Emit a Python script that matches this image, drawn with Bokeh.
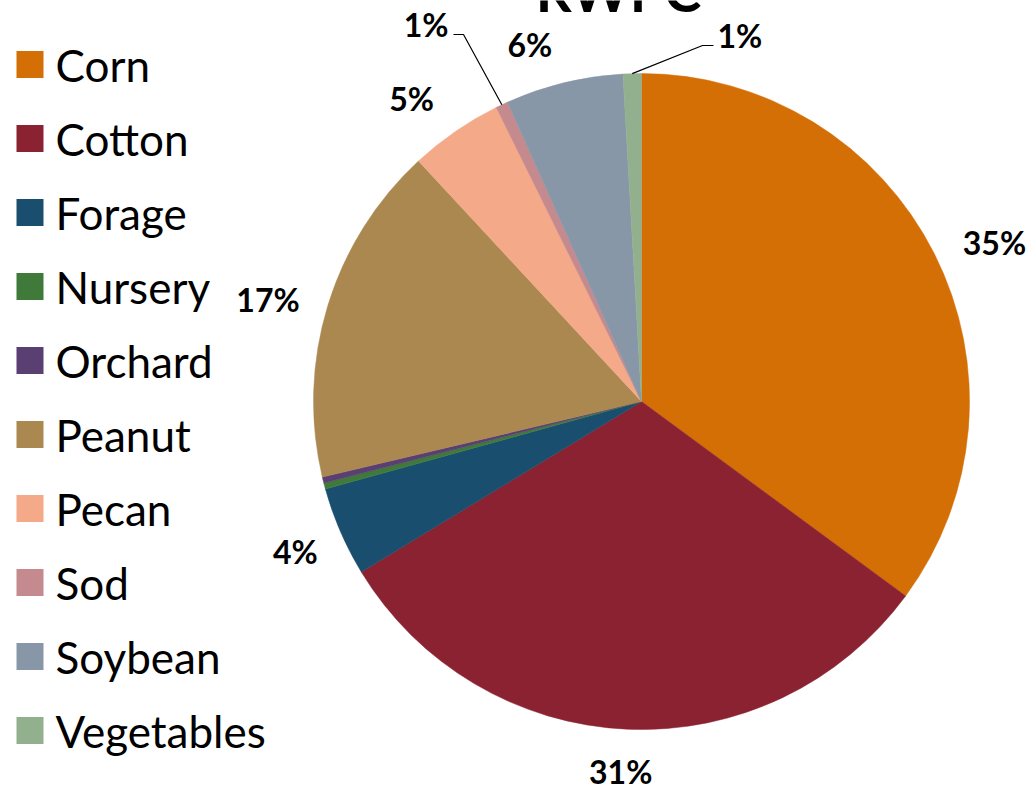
import math
from bokeh.plotting import figure
from bokeh.models import Range1d, ColumnDataSource, Label
from bokeh.core.properties import value
from bokeh.embed import file_html
from bokeh.resources import INLINE

title = "RWPC"
categories = ["Corn", "Cotton", "Forage", "Nursery", "Orchard", "Peanut",
              "Pecan", "Sod", "Soybean", "Vegetables"]
shares = [35.1, 31.2, 4.4, 0.3, 0.3, 16.8, 4.6, 0.6, 5.8, 0.9]
colors = ["#D46F06", "#8B2231", "#1A4E6E", "#3F7A3A", "#5A3F73", "#AB8850",
          "#F4A988", "#C48A8E", "#8797A8", "#93B08E"]

W, H = 1028, 786
R = 328.0
cx_px, cy_px = 641, 401  # pie centre in plot pixels from top-left

p = figure(width=W, height=H, output_backend="svg", toolbar_location=None,
           x_range=Range1d(-cx_px, W - cx_px), y_range=Range1d(-(H - cy_px), cy_px),
           min_border=0)
p.axis.visible = False
p.grid.visible = False
p.outline_line_color = None
p.background_fill_color = "white"

total = sum(shares)
starts, ends, mids = [], [], []
cum = 0.0
for v in shares:
    a0 = cum / total * 2 * math.pi
    cum += v
    a1 = cum / total * 2 * math.pi
    starts.append(math.pi / 2 - a1)
    ends.append(math.pi / 2 - a0)
    mids.append((a0 + a1) / 2)

src = ColumnDataSource(dict(start=starts, end=ends, color=colors))
p.wedge(x=0, y=0, radius=R, start_angle="start", end_angle="end",
        fill_color="color", line_color="color", line_width=0.5, source=src)

label_font = value("Lato")
# (radial factor, angular nudge in degrees) for data labels
placement = {"Corn": (1.18, 2.6), "Cotton": (1.13, 0.7), "Forage": (1.15, 0.0),
             "Peanut": (1.18, -1.7), "Pecan": (1.16, -2.6), "Soybean": (1.14, -3.7)}
lx, ly, lt = [], [], []
for c, v, m in zip(categories, shares, mids):
    if c in placement:
        f, d = placement[c]
        rr = R * f
        a = m + math.radians(d)
        lx.append(rr * math.sin(a))
        ly.append(rr * math.cos(a))
        lt.append(f"{round(v)}%")
p.text(x=lx, y=ly, text=lt, text_font=label_font, text_font_style="bold",
       text_font_size="32px", text_align="center", text_baseline="middle",
       text_color="black")

leader = {"Sod": (-178, 367, -188, "right"), "Vegetables": (61, 356, 72, "left")}
for c, v, m in zip(categories, shares, mids):
    if c in leader:
        ex, ey, hx, al = leader[c]
        sx, sy = R * math.sin(m), R * math.cos(m)
        p.line(x=[sx, ex, hx], y=[sy, ey, ey], line_color="black", line_width=1.2)
        tx = hx - 5 if al == "right" else hx + 4
        p.text(x=[tx], y=[ey + 10], text=[f"{round(v)}%"], text_font=label_font,
               text_font_style="bold", text_font_size="32px", text_align=al,
               text_baseline="middle", text_color="black")

p.add_layout(Label(x=-23, y=cy_px + 10, text=title, text_font="Lato",
                   text_font_style="bold", text_font_size="56px",
                   text_align="center", text_baseline="alphabetic",
                   text_color="black"))

leg_x = 16 - cx_px
ys = [cy_px - (64 + 74 * i) for i in range(len(categories))]
p.rect(x=[leg_x + 13.5] * len(categories), y=ys, width=27, height=27,
       fill_color=colors, line_color=None)
p.text(x=[leg_x + 39] * len(categories), y=ys, text=categories,
       text_font=label_font, text_font_size="44px", text_align="left",
       text_baseline="middle", text_color="black")

open("out.html", "w").write(file_html(p, INLINE))
